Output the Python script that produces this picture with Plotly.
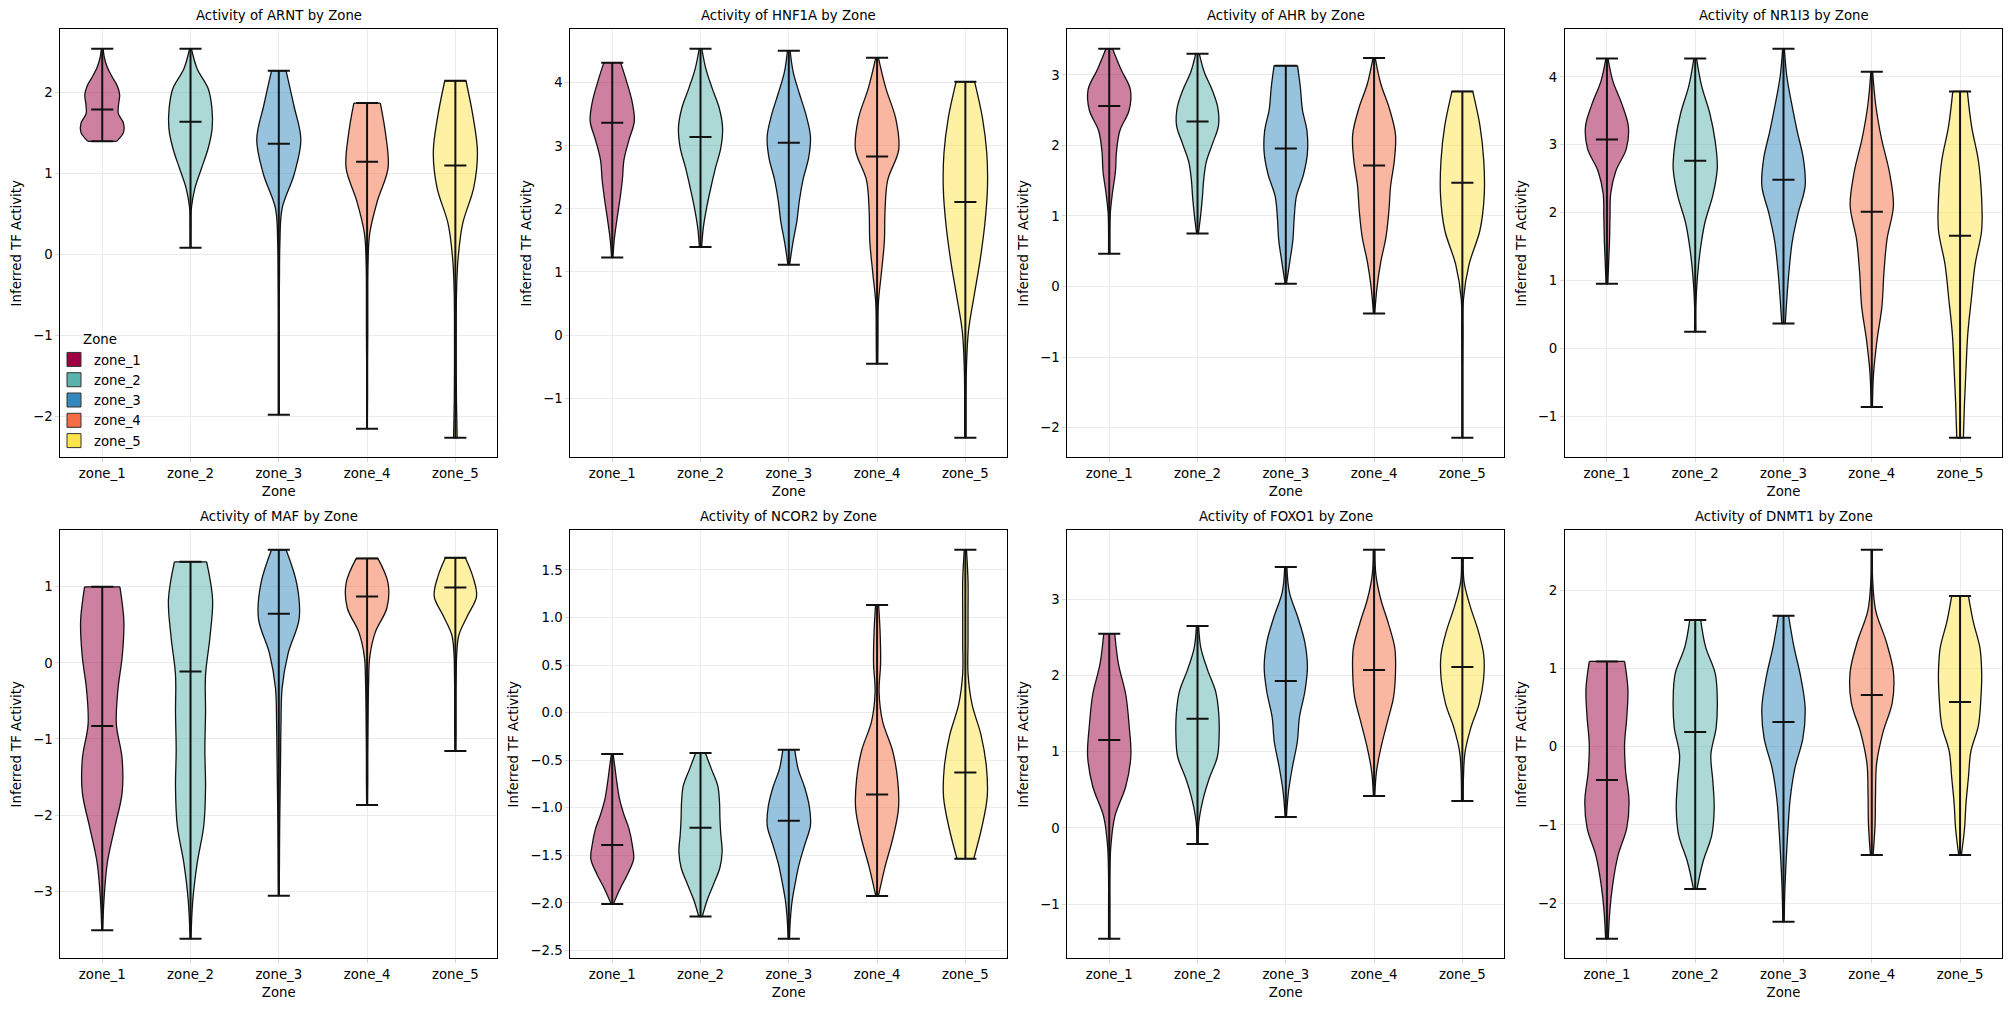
import plotly.graph_objects as go

W, H = 2011, 1011

ZONES = ["zone_1", "zone_2", "zone_3", "zone_4", "zone_5"]
ZONE_COLORS = ["#9e0142", "#5ab4ac", "#3288bd", "#f46d43", "#fde44a"]
TF_NAMES = ["ARNT", "HNF1A", "AHR", "NR1I3", "MAF", "NCOR2", "FOXO1", "DNMT1"]

# ---- per-TF values: minimum, maximum, median per zone ----
ARNT_MIN = [1.40, 0.086, -1.975, -2.148, -2.26]
ARNT_MAX = [2.543, 2.543, 2.27, 1.873, 2.148]
ARNT_MED = [1.794, 1.642, 1.37, 1.148, 1.103]

HNF1A_MIN = [1.23, 1.397, 1.116, -0.455, -1.63]
HNF1A_MAX = [4.32, 4.54, 4.508, 4.397, 4.016]
HNF1A_MED = [3.365, 3.14, 3.048, 2.83, 2.11]

AHR_MIN = [0.463, 0.75, 0.04, -0.383, -2.146]
AHR_MAX = [3.37, 3.30, 3.13, 3.24, 2.765]
AHR_MED = [2.56, 2.34, 1.957, 1.715, 1.47]

NR1I3_MIN = [0.953, 0.246, 0.368, -0.86, -1.316]
NR1I3_MAX = [4.27, 4.27, 4.415, 4.077, 3.787]
NR1I3_MED = [3.08, 2.765, 2.485, 2.014, 1.66]

MAF_MIN = [-3.513, -3.627, -3.06, -1.868, -1.158]
MAF_MAX = [1.0, 1.329, 1.487, 1.373, 1.382]
MAF_MED = [-0.829, -0.114, 0.645, 0.873, 0.991]

NCOR2_MIN = [-2.01, -2.143, -2.377, -1.926, -1.534]
NCOR2_MAX = [-0.434, -0.424, -0.389, 1.131, 1.712]
NCOR2_MED = [-1.39, -1.21, -1.135, -0.861, -0.63]

FOXO1_MIN = [-1.457, -0.21, 0.144, 0.42, 0.354]
FOXO1_MAX = [2.551, 2.652, 3.427, 3.654, 3.545]
FOXO1_MED = [1.155, 1.435, 1.93, 2.074, 2.114]

DNMT1_MIN = [-2.455, -1.817, -2.238, -1.383, -1.383]
DNMT1_MAX = [1.089, 1.617, 1.672, 2.515, 1.923]
DNMT1_MED = [-0.426, 0.187, 0.315, 0.66, 0.57]

# ---- density profiles (relative half-width, 11 levels from min to max) ----
ARNT_DENS = [
    [0.65, 0.97, 0.96, 0.73, 0.74, 0.79, 0.68, 0.44, 0.23, 0.10, 0.04],
    [0.02, 0.02, 0.04, 0.20, 0.50, 0.80, 0.98, 0.97, 0.80, 0.30, 0.04],
    [0.02, 0.02, 0.02, 0.02, 0.03, 0.05, 0.15, 0.70, 1.00, 0.68, 0.33],
    [0.01, 0.02, 0.02, 0.03, 0.03, 0.04, 0.12, 0.47, 0.95, 0.85, 0.60],
    [0.08, 0.05, 0.04, 0.04, 0.05, 0.12, 0.33, 0.83, 1.00, 0.80, 0.48],
]
HNF1A_DENS = [
    [0.03, 0.10, 0.22, 0.35, 0.46, 0.53, 0.75, 1.00, 0.90, 0.66, 0.38],
    [0.05, 0.13, 0.28, 0.47, 0.68, 0.92, 1.00, 0.85, 0.53, 0.24, 0.06],
    [0.04, 0.18, 0.36, 0.48, 0.65, 0.90, 0.98, 0.78, 0.48, 0.20, 0.06],
    [0.03, 0.04, 0.06, 0.20, 0.33, 0.36, 0.48, 0.98, 0.85, 0.40, 0.06],
    [0.03, 0.03, 0.05, 0.14, 0.40, 0.67, 0.88, 1.00, 0.97, 0.77, 0.42],
]
AHR_DENS = [
    [0.03, 0.03, 0.05, 0.15, 0.28, 0.33, 0.48, 0.90, 0.96, 0.53, 0.15],
    [0.04, 0.14, 0.22, 0.28, 0.40, 0.68, 0.95, 0.92, 0.66, 0.30, 0.08],
    [0.03, 0.18, 0.32, 0.38, 0.48, 0.80, 0.98, 0.96, 0.75, 0.66, 0.53],
    [0.03, 0.13, 0.30, 0.54, 0.67, 0.75, 0.92, 0.97, 0.70, 0.30, 0.05],
    [0.02, 0.02, 0.02, 0.03, 0.05, 0.30, 0.80, 0.99, 0.97, 0.80, 0.47],
]
NR1I3_DENS = [
    [0.04, 0.08, 0.12, 0.14, 0.17, 0.40, 0.88, 0.97, 0.67, 0.27, 0.05],
    [0.03, 0.03, 0.10, 0.23, 0.44, 0.80, 1.00, 0.90, 0.66, 0.29, 0.06],
    [0.08, 0.16, 0.26, 0.40, 0.66, 0.98, 0.90, 0.62, 0.37, 0.15, 0.04],
    [0.03, 0.08, 0.24, 0.46, 0.55, 0.69, 0.98, 0.80, 0.44, 0.18, 0.04],
    [0.15, 0.20, 0.27, 0.35, 0.51, 0.68, 0.98, 0.97, 0.83, 0.52, 0.33],
]
MAF_DENS = [
    [0.02, 0.09, 0.24, 0.57, 0.90, 0.90, 0.64, 0.71, 0.91, 0.98, 0.80],
    [0.02, 0.10, 0.30, 0.60, 0.68, 0.65, 0.68, 0.68, 0.88, 1.00, 0.73],
    [0.02, 0.03, 0.04, 0.06, 0.08, 0.10, 0.15, 0.42, 0.92, 0.82, 0.33],
    [0.02, 0.03, 0.03, 0.04, 0.05, 0.07, 0.12, 0.37, 0.90, 0.95, 0.49],
    [0.02, 0.03, 0.03, 0.03, 0.04, 0.06, 0.16, 0.55, 0.96, 0.80, 0.45],
]
NCOR2_DENS = [
    [0.05, 0.35, 0.70, 0.97, 0.90, 0.76, 0.52, 0.33, 0.22, 0.13, 0.04],
    [0.08, 0.30, 0.60, 0.88, 0.98, 0.92, 0.88, 0.86, 0.78, 0.50, 0.22],
    [0.03, 0.07, 0.15, 0.30, 0.48, 0.73, 0.98, 0.93, 0.72, 0.42, 0.27],
    [0.06, 0.36, 0.72, 0.97, 0.93, 0.70, 0.25, 0.09, 0.16, 0.14, 0.07],
    [0.38, 0.74, 0.99, 0.95, 0.71, 0.30, 0.12, 0.12, 0.12, 0.12, 0.05],
]
FOXO1_DENS = [
    [0.03, 0.03, 0.03, 0.07, 0.25, 0.75, 0.98, 0.90, 0.75, 0.42, 0.25],
    [0.03, 0.06, 0.24, 0.53, 0.90, 0.98, 0.96, 0.82, 0.45, 0.15, 0.05],
    [0.03, 0.12, 0.30, 0.52, 0.62, 0.86, 0.98, 0.86, 0.54, 0.16, 0.05],
    [0.03, 0.11, 0.32, 0.60, 0.88, 0.97, 0.94, 0.65, 0.30, 0.08, 0.04],
    [0.04, 0.05, 0.12, 0.38, 0.76, 0.96, 0.97, 0.72, 0.36, 0.08, 0.04],
]
DNMT1_DENS = [
    [0.06, 0.13, 0.27, 0.50, 0.90, 1.00, 0.85, 0.80, 0.90, 0.95, 0.80],
    [0.08, 0.35, 0.75, 0.86, 0.80, 0.71, 0.95, 1.00, 0.91, 0.47, 0.25],
    [0.03, 0.06, 0.12, 0.20, 0.30, 0.51, 0.88, 0.98, 0.78, 0.47, 0.23],
    [0.06, 0.15, 0.17, 0.22, 0.50, 0.93, 0.98, 0.65, 0.18, 0.04, 0.03],
    [0.06, 0.20, 0.27, 0.38, 0.49, 0.83, 0.94, 0.98, 0.90, 0.60, 0.38],
]

PANELS = [
    (ARNT_MIN, ARNT_MAX, ARNT_MED, ARNT_DENS),
    (HNF1A_MIN, HNF1A_MAX, HNF1A_MED, HNF1A_DENS),
    (AHR_MIN, AHR_MAX, AHR_MED, AHR_DENS),
    (NR1I3_MIN, NR1I3_MAX, NR1I3_MED, NR1I3_DENS),
    (MAF_MIN, MAF_MAX, MAF_MED, MAF_DENS),
    (NCOR2_MIN, NCOR2_MAX, NCOR2_MED, NCOR2_DENS),
    (FOXO1_MIN, FOXO1_MAX, FOXO1_MED, FOXO1_DENS),
    (DNMT1_MIN, DNMT1_MAX, DNMT1_MED, DNMT1_DENS),
]
Y_DTICK = [1, 1, 1, 1, 1, 0.5, 1, 1]

# ---- layout geometry (pixels) ----
AX_X = [(60.3, 497.3), (570.3, 1007.3), (1067.3, 1504.3), (1565.0, 2002.0)]
AX_Y = [(29.3, 457.3), (530.3, 958.3)]
HALF = 0.25        # violin half width (widths=0.5)
CAP = 0.125        # half length of min / max / median bars
LINE = "#111111"
GRID = "#ebebeb"
FONT = "DejaVu Sans"
FS = 13.3


def rgba(hexc, a):
    h = hexc.lstrip("#")
    return "rgba(%d,%d,%d,%.2f)" % (int(h[0:2], 16), int(h[2:4], 16), int(h[4:6], 16), a)


fig = go.Figure()
layout = {}
annotations = []

for i, (mins, maxs, meds, dens) in enumerate(PANELS):
    row, col = divmod(i, 4)
    sfx = "" if i == 0 else str(i + 1)
    xr, yr = "x" + sfx, "y" + sfx

    cap_x, cap_y = [], []
    bar_x, bar_y = [], []
    edge_x, edge_y = [], []
    for z in range(5):
        c = z + 1
        lo, hi, prof = mins[z], maxs[z], dens[z]
        n = len(prof) - 1
        ys = [lo + (hi - lo) * k / n for k in range(n + 1)]
        left = [c - HALF * w for w in prof]
        right = [c + HALF * w for w in prof]
        fig.add_trace(go.Scatter(
            x=left, y=ys, mode="lines", xaxis=xr, yaxis=yr,
            line=dict(color=LINE, width=1.3, shape="spline", smoothing=1.0),
            showlegend=False, hoverinfo="skip"))
        fig.add_trace(go.Scatter(
            x=right, y=ys, mode="lines", xaxis=xr, yaxis=yr, fill="tonextx",
            fillcolor=rgba(ZONE_COLORS[z], 0.5),
            line=dict(color=LINE, width=1.3, shape="spline", smoothing=1.0),
            showlegend=False, hoverinfo="skip"))
        # flat body edges at min and max
        edge_x += [left[0], right[0], None, left[-1], right[-1], None]
        edge_y += [lo, lo, None, hi, hi, None]
        # central bar
        bar_x += [c, c, None]
        bar_y += [lo, hi, None]
        # min / max / median caps
        for v in (lo, hi, meds[z]):
            cap_x += [c - CAP, c + CAP, None]
            cap_y += [v, v, None]

    fig.add_trace(go.Scatter(x=edge_x, y=edge_y, mode="lines", xaxis=xr, yaxis=yr,
                             line=dict(color=LINE, width=1.3), showlegend=False, hoverinfo="skip"))
    fig.add_trace(go.Scatter(x=bar_x, y=bar_y, mode="lines", xaxis=xr, yaxis=yr,
                             line=dict(color=LINE, width=2), showlegend=False, hoverinfo="skip"))
    fig.add_trace(go.Scatter(x=cap_x, y=cap_y, mode="lines", xaxis=xr, yaxis=yr,
                             line=dict(color=LINE, width=2), showlegend=False, hoverinfo="skip"))

    ymin, ymax = min(mins), max(maxs)
    pad = 0.05 * (ymax - ymin)
    x0, x1 = AX_X[col]
    y0, y1 = AX_Y[row]
    common = dict(showgrid=True, gridcolor=GRID, gridwidth=1, zeroline=False,
                  showline=True, linecolor="black", linewidth=1, mirror=True,
                  ticks="outside", ticklen=4, tickcolor="#d6d6d6",
                  tickfont=dict(family=FONT, size=FS, color="black"))
    layout["xaxis" + sfx] = dict(
        domain=[x0 / W, x1 / W], anchor=yr, range=[0.525, 5.475],
        tickvals=[1, 2, 3, 4, 5], ticktext=ZONES,
        title=dict(text="Zone", font=dict(family=FONT, size=FS, color="black"), standoff=6),
        **common)
    ydict = dict(
        domain=[1 - y1 / H, 1 - y0 / H], anchor=xr, range=[ymin - pad, ymax + pad],
        dtick=Y_DTICK[i], tick0=0,
        title=dict(text="Inferred TF Activity", font=dict(family=FONT, size=FS, color="black"), standoff=8),
        **common)
    if Y_DTICK[i] < 1:
        ydict["tickformat"] = ".1f"
    layout["yaxis" + sfx] = ydict

    annotations.append(dict(
        text="Activity of %s by Zone" % TF_NAMES[i], xref="paper", yref="paper",
        x=(x0 + x1) / 2 / W, y=1 - y0 / H, xanchor="center", yanchor="bottom",
        yshift=4, showarrow=False, font=dict(family=FONT, size=FS, color="black")))

# legend entries (drawn in the first panel)
for z in range(5):
    fig.add_trace(go.Scatter(
        x=[None], y=[None], mode="markers", name=ZONES[z], xaxis="x", yaxis="y",
        marker=dict(symbol="square", size=14, color=ZONE_COLORS[z],
                    line=dict(color="#333333", width=1)),
        showlegend=True, hoverinfo="skip"))

fig.update_layout(
    width=W, height=H, margin=dict(l=0, r=0, t=0, b=0),
    paper_bgcolor="white", plot_bgcolor="white",
    font=dict(family=FONT, size=FS, color="black"),
    annotations=annotations,
    showlegend=True,
    legend=dict(x=54 / W, y=1 - 327 / H, xanchor="left", yanchor="top",
                bgcolor="rgba(0,0,0,0)", borderwidth=0, traceorder="normal",
                font=dict(family=FONT, size=FS, color="black"),
                title=dict(text="Zone", side="top center",
                           font=dict(family=FONT, size=FS, color="black")),
                tracegroupgap=0, itemwidth=30),
    **layout)

fig.write_html("out.html")
